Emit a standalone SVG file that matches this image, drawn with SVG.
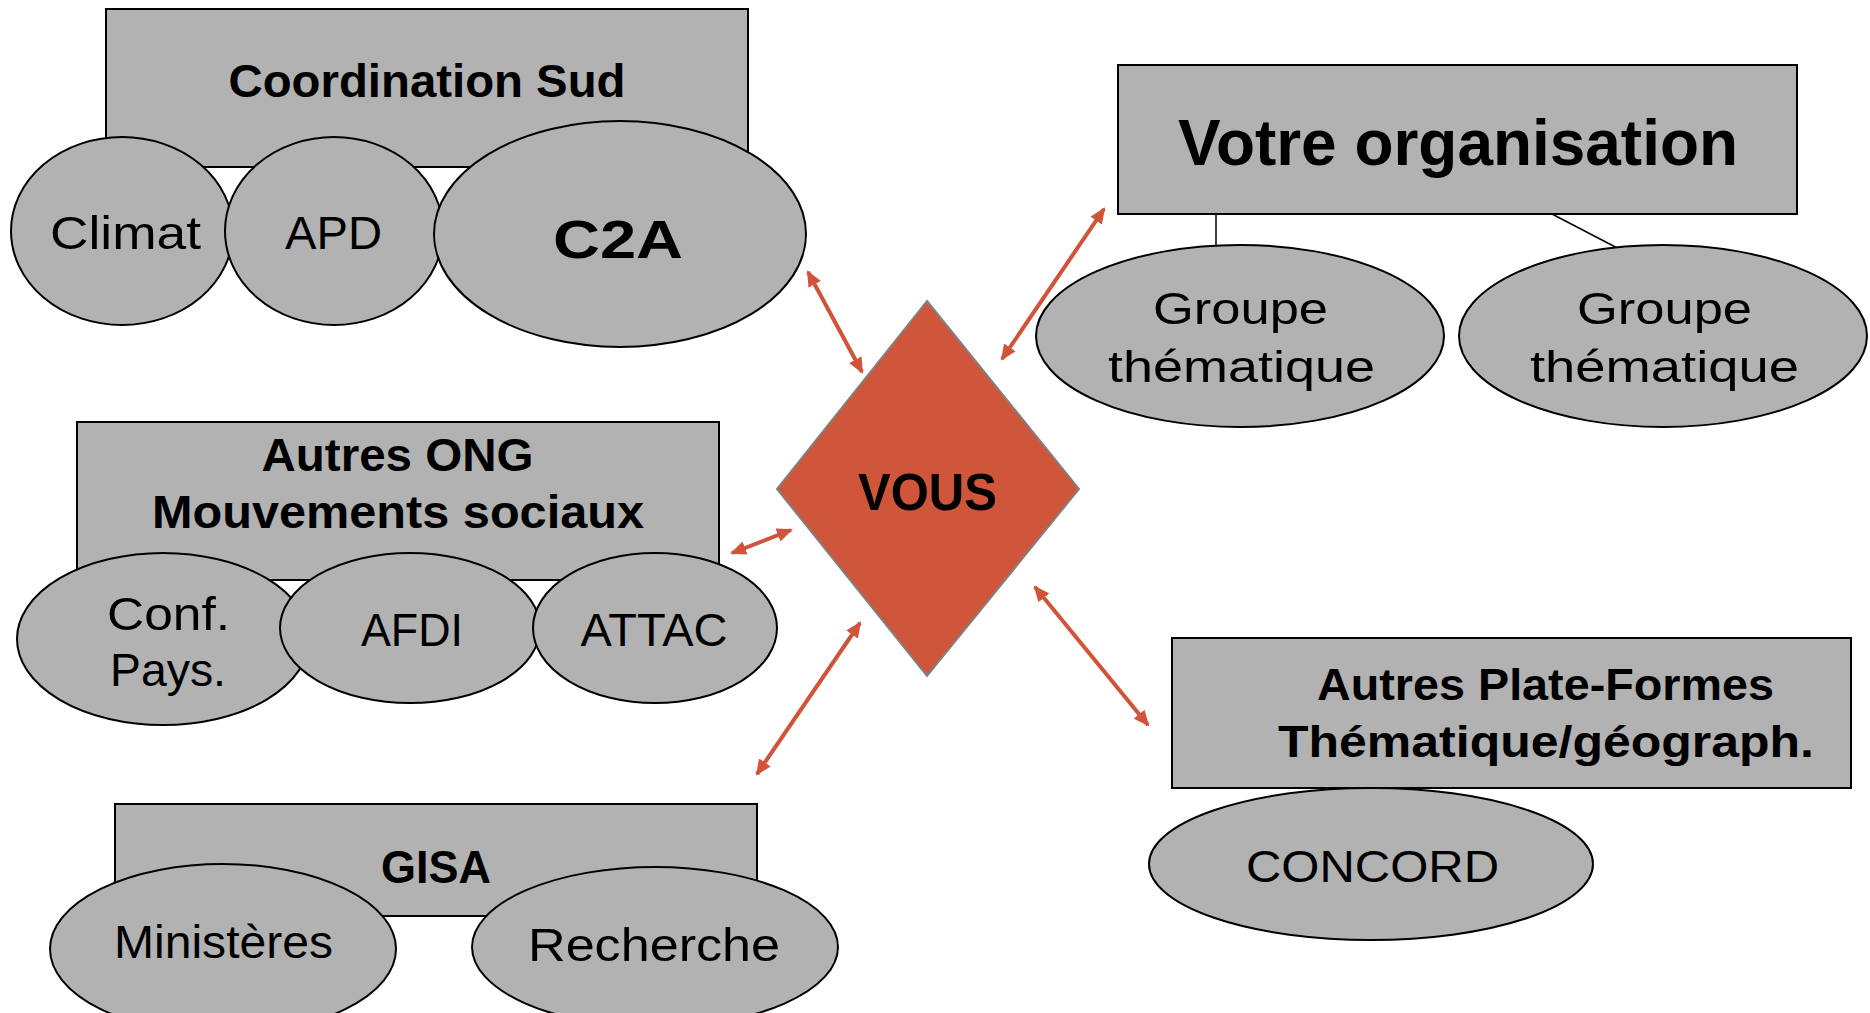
<svg xmlns="http://www.w3.org/2000/svg" width="1870" height="1013" viewBox="0 0 1870 1013">
<defs>
<style>
.box{fill:#b2b2b2;stroke:#000;stroke-width:2}
.ell{fill:#b2b2b2;stroke:#000;stroke-width:2}
.t{font-family:"Liberation Sans",Arial,sans-serif;fill:#000;text-anchor:middle}
.b{font-weight:bold}
.link{stroke:#000;stroke-width:1.5;fill:none}
.arr{stroke:#d0533a;stroke-width:4;fill:none;marker-start:url(#ah);marker-end:url(#ah)}
</style>
<marker id="ah" viewBox="0 0 16 14" markerWidth="16" markerHeight="14" refX="14" refY="7" orient="auto-start-reverse" markerUnits="userSpaceOnUse">
<path d="M0,0 L16,7 L0,14 z" fill="#d0533a"/>
</marker>
</defs>
<rect width="1870" height="1013" fill="#fff"/>

<g id="coordination-sud">
<rect class="box" x="106" y="9" width="642" height="158"/>
<text class="t b" x="427" y="97" font-size="46" textLength="397" lengthAdjust="spacingAndGlyphs">Coordination Sud</text>
</g>
<g id="climat">
<ellipse class="ell" cx="122" cy="231" rx="111" ry="94"/>
<text class="t" x="125.5" y="249" font-size="46" textLength="151" lengthAdjust="spacingAndGlyphs">Climat</text>
</g>
<g id="apd">
<ellipse class="ell" cx="334" cy="231" rx="109" ry="94"/>
<text class="t" x="333.5" y="249" font-size="46" textLength="97" lengthAdjust="spacingAndGlyphs">APD</text>
</g>
<g id="c2a">
<ellipse class="ell" cx="620" cy="234" rx="186" ry="113"/>
<text class="t b" x="618" y="258" font-size="53" textLength="130" lengthAdjust="spacingAndGlyphs">C2A</text>
</g>

<g id="votre-organisation">
<rect class="box" x="1118" y="65" width="679" height="149"/>
<text class="t b" x="1458" y="165" font-size="64" textLength="560" lengthAdjust="spacingAndGlyphs">Votre organisation</text>
</g>

<g id="connectors">
<line class="link" x1="1216" y1="214" x2="1216" y2="246"/>
<line class="link" x1="1552" y1="214" x2="1625" y2="252"/>
<line class="arr" x1="808" y1="272" x2="862" y2="372"/>
<line class="arr" x1="1104" y1="209" x2="1002" y2="359"/>
<line class="arr" x1="732" y1="553" x2="791" y2="530"/>
<line class="arr" x1="860" y1="623" x2="757" y2="774"/>
<line class="arr" x1="1035" y1="587" x2="1148" y2="725"/>
</g>

<g id="groupe-thematique-1">
<ellipse class="ell" cx="1240" cy="336" rx="204" ry="91"/>
<text class="t" x="1240.5" y="324" font-size="44" textLength="175" lengthAdjust="spacingAndGlyphs">Groupe</text>
<text class="t" x="1241.5" y="382" font-size="44" textLength="267" lengthAdjust="spacingAndGlyphs">thématique</text>
</g>
<g id="groupe-thematique-2">
<ellipse class="ell" cx="1663" cy="336" rx="204" ry="91"/>
<text class="t" x="1664.5" y="324" font-size="44" textLength="175" lengthAdjust="spacingAndGlyphs">Groupe</text>
<text class="t" x="1664.5" y="382" font-size="44" textLength="269" lengthAdjust="spacingAndGlyphs">thématique</text>
</g>

<g id="autres-ong">
<rect class="box" x="77" y="422" width="642" height="158"/>
<text class="t b" x="397.5" y="471" font-size="46" textLength="272" lengthAdjust="spacingAndGlyphs">Autres ONG</text>
<text class="t b" x="398" y="528" font-size="46" textLength="492" lengthAdjust="spacingAndGlyphs">Mouvements sociaux</text>
</g>
<g id="conf-pays">
<ellipse class="ell" cx="163" cy="639" rx="146" ry="86"/>
<text class="t" x="168.5" y="630" font-size="46" textLength="123" lengthAdjust="spacingAndGlyphs">Conf.</text>
<text class="t" x="168" y="686" font-size="46" textLength="116" lengthAdjust="spacingAndGlyphs">Pays.</text>
</g>
<g id="afdi">
<ellipse class="ell" cx="410" cy="628" rx="130" ry="75"/>
<text class="t" x="412" y="646" font-size="46" textLength="102" lengthAdjust="spacingAndGlyphs">AFDI</text>
</g>
<g id="attac">
<ellipse class="ell" cx="655" cy="628" rx="122" ry="75"/>
<text class="t" x="654" y="646" font-size="46" textLength="147" lengthAdjust="spacingAndGlyphs">ATTAC</text>
</g>

<g id="vous">
<polygon points="927,301 1079,489 927,676 777,489" fill="#cf553b" stroke="#808080" stroke-width="2"/>
<text class="t b" x="927.5" y="510" font-size="52" textLength="139" lengthAdjust="spacingAndGlyphs">VOUS</text>
</g>

<g id="gisa">
<rect class="box" x="115" y="804" width="642" height="112"/>
<text class="t b" x="436" y="883" font-size="46" textLength="110" lengthAdjust="spacingAndGlyphs">GISA</text>
</g>
<g id="ministeres">
<ellipse class="ell" cx="223" cy="949" rx="173" ry="85"/>
<text class="t" x="223.5" y="958" font-size="46" textLength="219" lengthAdjust="spacingAndGlyphs">Ministères</text>
</g>
<g id="recherche">
<ellipse class="ell" cx="655" cy="947" rx="183" ry="80"/>
<text class="t" x="654" y="961" font-size="46" textLength="252" lengthAdjust="spacingAndGlyphs">Recherche</text>
</g>

<g id="autres-plate-formes">
<rect class="box" x="1172" y="638" width="679" height="150"/>
<text class="t b" x="1545.5" y="700" font-size="44" textLength="457" lengthAdjust="spacingAndGlyphs">Autres Plate-Formes</text>
<text class="t b" x="1546" y="757" font-size="44" textLength="536" lengthAdjust="spacingAndGlyphs">Thématique/géograph.</text>
</g>
<g id="concord">
<ellipse class="ell" cx="1371" cy="864" rx="222" ry="76"/>
<text class="t" x="1372.5" y="882" font-size="44" textLength="253" lengthAdjust="spacingAndGlyphs">CONCORD</text>
</g>
</svg>
